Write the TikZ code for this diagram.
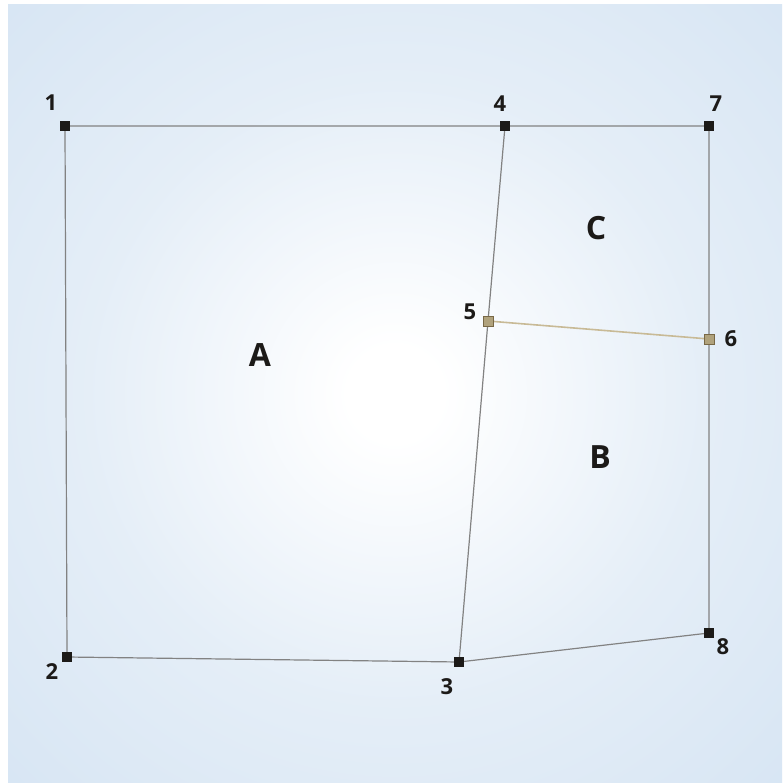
\documentclass[tikz,border=0pt]{standalone}
\usepackage{fontspec}
\setmainfont{Open Sans}
\definecolor{bgblue}{RGB}{207,224,241}
\definecolor{edge}{RGB}{130,130,130}
\definecolor{tanline}{RGB}{200,186,150}
\definecolor{tanfill}{RGB}{176,162,124}
\definecolor{tandraw}{RGB}{120,104,70}
\definecolor{mark}{RGB}{28,26,24}
\pgfdeclareradialshading{bgshade}{\pgfpoint{0bp}{0bp}}{color(0bp)=(white); color(3bp)=(white); color(20bp)=(bgblue!55!white); color(46bp)=(bgblue); color(80bp)=(bgblue)}
\tikzset{
  edgeline/.style={draw=edge, line width=1.2pt},
  tanedge/.style={draw=tanline, line width=1.6pt},
  pt/.style={rectangle, fill=mark, inner sep=0pt, minimum size=10pt},
  tanpt/.style={rectangle, fill=tanfill, draw=tandraw, line width=0.5pt, inner sep=0pt, minimum size=10pt},
  num/.style={font=\bfseries\fontsize{22}{22}\selectfont, text=mark, inner sep=0pt},
  region/.style={font=\bfseries\fontsize{32}{32}\selectfont, text=mark, inner sep=0pt}
}
\begin{document}
\begin{tikzpicture}[x=1pt,y=-1pt]
\useasboundingbox (0,0) rectangle (783,783);
\fill[white] (0,0) rectangle (783,783);
\shade[shading=bgshade] (8,5) rectangle (782,783);
\coordinate (c1) at (65,126);
\coordinate (c4) at (505,126);
\coordinate (c7) at (709,126);
\coordinate (c2) at (67,657);
\coordinate (c3) at (459,662);
\coordinate (c8) at (709,633);
\coordinate (c5) at (488,321);
\coordinate (c6) at (709,339);
\draw[edgeline] (c2) -- (c1) -- (c4) -- (c7) -- (c8) -- (c3) -- (c2);
\draw[edgeline] (c4) -- (c5) -- (c3);
\draw[tanedge] (c5) -- (c6);
\node[pt] (p1) at (c1) {};
\node[pt] (p2) at (c2) {};
\node[pt] (p3) at (c3) {};
\node[pt] (p4) at (c4) {};
\node[pt] (p7) at (c7) {};
\node[pt] (p8) at (c8) {};
\node[tanpt] (p5) at (c5) {};
\node[tanpt] (p6) at (c6) {};
\node[num] (l1) at (51,103) {1};
\node[num] (l4) at (500,104) {4};
\node[num] (l7) at (716,104) {7};
\node[num] (l2) at (52,672) {2};
\node[num] (l3) at (447,687) {3};
\node[num] (l8) at (723,647) {8};
\node[num] (l5) at (470,312) {5};
\node[num] (l6) at (731,339) {6};
\node[region] (rA) at (260,355) {A};
\node[region] (rB) at (600,457) {B};
\node[region] (rC) at (596,228) {C};
\end{tikzpicture}
\end{document}
